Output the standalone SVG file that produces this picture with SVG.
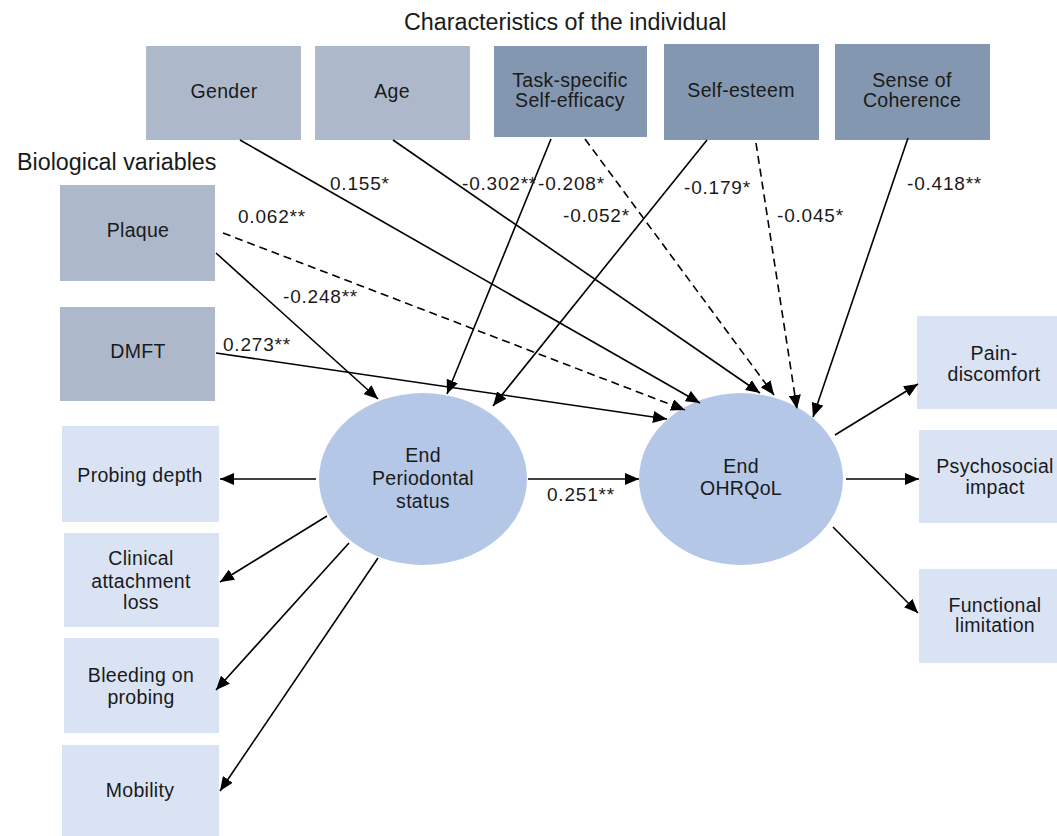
<svg xmlns="http://www.w3.org/2000/svg" width="1057" height="836" viewBox="0 0 1057 836">
<defs>
<marker id="ah" markerUnits="userSpaceOnUse" markerWidth="15" markerHeight="12" refX="14" refY="6" orient="auto">
<path d="M0,0 L14,6 L0,12 z" fill="#000"/>
</marker>
<style>
text{font-family:"Liberation Sans",Arial,sans-serif;fill:#1a1a1a;text-anchor:middle;font-size:19.5px;letter-spacing:0.3px}
.hdr{font-size:23.3px;text-anchor:start;letter-spacing:0}
.lbl{text-anchor:start;font-size:19px;letter-spacing:0.8px}
.c1{fill:#adb9cb}
.c2{fill:#8497b0}
.c3{fill:#dae3f3}
.el{fill:#b4c7e7}
.e{stroke:#000;stroke-width:1.6;fill:none;marker-end:url(#ah)}
.d{stroke-dasharray:8 5}
</style>
</defs>
<rect width="1057" height="836" fill="#fff"/>
<text class="hdr" x="404" y="30">Characteristics of the individual</text>
<text class="hdr" x="17" y="170">Biological variables</text>

<g id="gender"><rect class="c1" x="146" y="46" width="155" height="94"/><text x="224" y="98">Gender</text></g>
<g id="age"><rect class="c1" x="315" y="46" width="155" height="94"/><text x="392" y="98">Age</text></g>
<g id="selfefficacy"><rect class="c2" x="494" y="46" width="153" height="91"/><text x="570" y="87">Task-specific</text><text x="570" y="107">Self-efficacy</text></g>
<g id="selfesteem"><rect class="c2" x="664" y="44" width="155" height="96"/><text x="741" y="97">Self-esteem</text></g>
<g id="soc"><rect class="c2" x="835" y="44" width="155" height="96"/><text x="912" y="87">Sense of</text><text x="912" y="107">Coherence</text></g>

<g id="plaque"><rect class="c1" x="60" y="185" width="155" height="96"/><text x="138" y="237">Plaque</text></g>
<g id="dmft"><rect class="c1" x="60" y="307" width="155" height="94"/><text x="138" y="358">DMFT</text></g>

<g id="probing"><rect class="c3" x="62" y="426" width="157" height="96"/><text x="140" y="482">Probing depth</text></g>
<g id="cal"><rect class="c3" x="64" y="533" width="155" height="94"/><text x="141" y="565">Clinical</text><text x="141" y="588">attachment</text><text x="141" y="609">loss</text></g>
<g id="bop"><rect class="c3" x="64" y="638" width="155" height="95"/><text x="141" y="682">Bleeding on</text><text x="141" y="704">probing</text></g>
<g id="mobility"><rect class="c3" x="62" y="745" width="157" height="95"/><text x="140" y="797">Mobility</text></g>

<g id="pain"><rect class="c3" x="917" y="316" width="154" height="93"/><text x="994" y="360">Pain-</text><text x="994" y="381">discomfort</text></g>
<g id="psycho"><rect class="c3" x="919" y="430" width="152" height="93"/><text x="995" y="473">Psychosocial</text><text x="995" y="494">impact</text></g>
<g id="functional"><rect class="c3" x="919" y="569" width="152" height="94"/><text x="995" y="612">Functional</text><text x="995" y="632">limitation</text></g>

<g id="perio"><ellipse class="el" cx="423" cy="479" rx="104" ry="86"/><text x="423" y="462">End</text><text x="423" y="485">Periodontal</text><text x="423" y="508">status</text></g>
<g id="ohrqol"><ellipse class="el" cx="741" cy="479" rx="102" ry="86"/><text x="741" y="473">End</text><text x="741" y="495">OHRQoL</text></g>

<g id="connectors">
<line class="e" x1="240" y1="140" x2="700" y2="403"/>
<line class="e" x1="393" y1="140" x2="760" y2="393"/>
<line class="e" x1="551" y1="139" x2="447" y2="394"/>
<line class="e d" x1="585" y1="139" x2="774" y2="395"/>
<line class="e" x1="707" y1="140" x2="493" y2="406"/>
<line class="e d" x1="756" y1="143" x2="797" y2="409"/>
<line class="e" x1="908" y1="138" x2="813" y2="417"/>
<line class="e" x1="216" y1="253" x2="378" y2="399"/>
<line class="e d" x1="223" y1="233" x2="685" y2="410"/>
<line class="e" x1="216" y1="353" x2="667" y2="419"/>
<line class="e" x1="528" y1="479" x2="639" y2="479"/>
<line class="e" x1="316" y1="479" x2="220" y2="479"/>
<line class="e" x1="327" y1="516" x2="220" y2="582"/>
<line class="e" x1="349" y1="543" x2="216" y2="690"/>
<line class="e" x1="378" y1="558" x2="220" y2="791"/>
<line class="e" x1="835" y1="435" x2="918" y2="384"/>
<line class="e" x1="846" y1="479" x2="919" y2="479"/>
<line class="e" x1="833" y1="527" x2="918" y2="613"/>
</g>
<g id="labels">
<text class="lbl" x="330" y="190">0.155*</text>
<text class="lbl" x="462" y="190">-0.302**</text>
<text class="lbl" x="538" y="190">-0.208*</text>
<text class="lbl" x="563" y="222">-0.052*</text>
<text class="lbl" x="684" y="194">-0.179*</text>
<text class="lbl" x="777" y="222">-0.045*</text>
<text class="lbl" x="907" y="190">-0.418**</text>
<text class="lbl" x="238" y="223">0.062**</text>
<text class="lbl" x="283" y="303">-0.248**</text>
<text class="lbl" x="223" y="351">0.273**</text>
<text class="lbl" x="547" y="501">0.251**</text>
</g>
</svg>
